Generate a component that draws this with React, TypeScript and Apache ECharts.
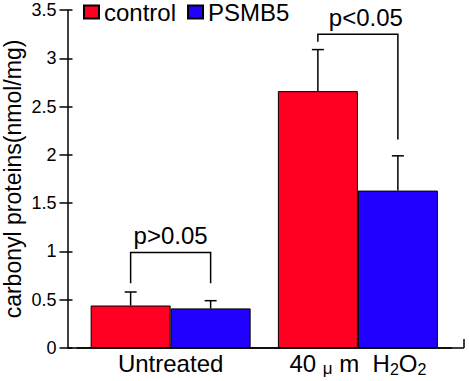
import React, { useEffect, useRef } from "react";
import * as echarts from "echarts";

const categories = ["Untreated", "40 μm H2O2"];
const seriesNames = ["control", "PSMB5"];
const controlValues = [0.44, 2.66];
const psmb5Values = [0.41, 1.63];
const controlErrors = [0.14, 0.43];
const psmb5Errors = [0.08, 0.36];
const bracketLabels = ["p>0.05", "p<0.05"];
const bracketLeftEnd = [0.67, 3.17];
const bracketTop = [0.99, 3.25];
const bracketRightEnd = [0.67, 2.16];
const yMin = 0;
const yMax = 3.5;
const yInterval = 0.5;

const RED = "#ff0022";
const BLUE = "#2200ff";
const FONT = "'Liberation Sans', Arial, sans-serif";
const BAR_W = 80;
const BIG = 24;
const GRID = { left: 77, right: 17.5, top: 10, bottom: 33 };
const Y_OFFSET = 9.5;
const LABEL_DX = [0, 8];

function errorSeries(name: string, values: number[], errors: number[], sign: number) {
  return {
    type: "custom",
    name: name + "-err",
    silent: true,
    z: 5,
    encode: { x: 0, y: 1 },
    data: values.map((v, i) => [i, v, v + errors[i]]),
    renderItem: (params: any, api: any) => {
      const i = api.value(0);
      const base = api.coord([i, api.value(1)]);
      const top = api.coord([i, api.value(2)]);
      const x = base[0] + (sign * BAR_W) / 2;
      const st = { stroke: "#000", lineWidth: 1.5 };
      return {
        type: "group",
        children: [
          { type: "line", shape: { x1: x, y1: base[1], x2: x, y2: top[1] }, style: st },
          { type: "line", shape: { x1: x - 6, y1: top[1], x2: x + 6, y2: top[1] }, style: st },
        ],
      };
    },
  };
}

export default function App() {
  const ref = useRef<HTMLDivElement>(null);
  useEffect(() => {
    if (!ref.current) return;
    const chart = echarts.init(ref.current, null, { renderer: "svg" });
    const option: any = {
      animation: false,
      grid: { ...GRID, containLabel: false, outerBoundsMode: "none" },
      legend: {
        data: seriesNames,
        left: 83,
        top: 0,
        padding: 0,
        itemWidth: 15,
        itemHeight: 13,
        itemGap: 11,
        icon: "rect",
        textStyle: { fontSize: 24, lineHeight: 20, color: "#000", fontFamily: FONT },
      },
      xAxis: {
        type: "category",
        data: categories,
        axisLine: { show: true, lineStyle: { color: "#000", width: 1.5 } },
        axisTick: { show: false },
        axisLabel: {
          interval: 0,
          hideOverlap: false,
          margin: 1,
          color: "#000",
          fontFamily: FONT,
          formatter: (v: string) =>
            v === categories[1]
              ? "{a|40 }{mu|μ}{a| m  H}{sub|2}{a|O}{sub|2}"
              : "{a|" + v + "}",
          rich: {
            a: { fontSize: BIG, lineHeight: 28, fontFamily: FONT, color: "#000" },
            mu: { fontSize: 17, lineHeight: 27, verticalAlign: "bottom", fontFamily: FONT, color: "#000" },
            sub: { fontSize: 16, lineHeight: 10, verticalAlign: "bottom", fontFamily: FONT, color: "#000" },
          },
        },
      },
      yAxis: [
        {
          type: "value",
          min: yMin,
          max: yMax,
          interval: yInterval,
          offset: Y_OFFSET,
          name: "carbonyl proteins(nmol/mg)",
          nameLocation: "middle",
          nameGap: 44,
          nameMoveOverlap: false,
          nameTextStyle: { fontSize: 23, lineHeight: 22, color: "#000", fontFamily: FONT },
          axisLine: { show: true, lineStyle: { color: "#000", width: 1.5 } },
          axisTick: { show: true, length: 8, lineStyle: { color: "#000", width: 1.5 } },
          axisLabel: { margin: 11, fontSize: 18, color: "#000", fontFamily: FONT },
          splitLine: { show: false },
        },
        {
          type: "value",
          min: yMin,
          max: yMax,
          interval: yInterval,
          offset: Y_OFFSET,
          position: "left",
          axisLine: { show: false },
          axisTick: { show: true, inside: true, length: 5, lineStyle: { color: "#000", width: 1.5 } },
          axisLabel: { show: false },
          splitLine: { show: false },
        },
      ],
      series: [
        {
          name: seriesNames[0],
          type: "bar",
          data: controlValues,
          barWidth: BAR_W,
          barGap: "0%",
          itemStyle: { color: RED, borderColor: "#000", borderWidth: 1 },
        },
        {
          name: seriesNames[1],
          type: "bar",
          data: psmb5Values,
          barWidth: BAR_W,
          barGap: "0%",
          itemStyle: { color: BLUE, borderColor: "#000", borderWidth: 1 },
        },
        errorSeries("control", controlValues, controlErrors, -1),
        errorSeries("PSMB5", psmb5Values, psmb5Errors, 1),
        {
          type: "custom",
          name: "brackets",
          silent: true,
          z: 6,
          encode: { x: 0, y: 2 },
          data: bracketTop.map((t, i) => [i, bracketLeftEnd[i], t, bracketRightEnd[i]]),
          renderItem: (params: any, api: any) => {
            const i = api.value(0);
            const c = api.coord([i, api.value(2)]);
            const yl = api.coord([i, api.value(1)])[1];
            const yr = api.coord([i, api.value(3)])[1];
            const x1 = c[0] - BAR_W / 2;
            const x2 = c[0] + BAR_W / 2;
            return {
              type: "group",
              children: [
                {
                  type: "polyline",
                  shape: { points: [[x1, yl], [x1, c[1]], [x2, c[1]], [x2, yr]] },
                  style: { stroke: "#000", lineWidth: 1.5, fill: "none" },
                },
                {
                  type: "text",
                  x: c[0] + LABEL_DX[i],
                  y: c[1] - 5,
                  style: {
                    text: bracketLabels[i],
                    fontSize: BIG,
                    fontFamily: FONT,
                    fill: "#000",
                    align: "center",
                    verticalAlign: "bottom",
                  },
                },
              ],
            };
          },
        },
      ],
    };
    chart.setOption(option);
    const y0 = chart.convertToPixel({ yAxisIndex: 0 }, 0) as number;
    const xAxisLeft = GRID.left - Y_OFFSET;
    const xAxisRight = 464;
    chart.setOption({
      graphic: [
        {
          type: "line",
          shape: { x1: xAxisLeft, y1: y0, x2: xAxisRight, y2: y0 },
          style: { stroke: "#000", lineWidth: 1.5 },
          silent: true,
        },
        {
          type: "line",
          shape: { x1: xAxisRight, y1: y0, x2: xAxisRight, y2: y0 - 9 },
          style: { stroke: "#000", lineWidth: 1.5 },
          silent: true,
        },
      ],
    });
    return () => chart.dispose();
  }, []);
  return <div ref={ref} style={{ width: 469, height: 381, position: "absolute", left: 0, top: 0 }} />;
}
